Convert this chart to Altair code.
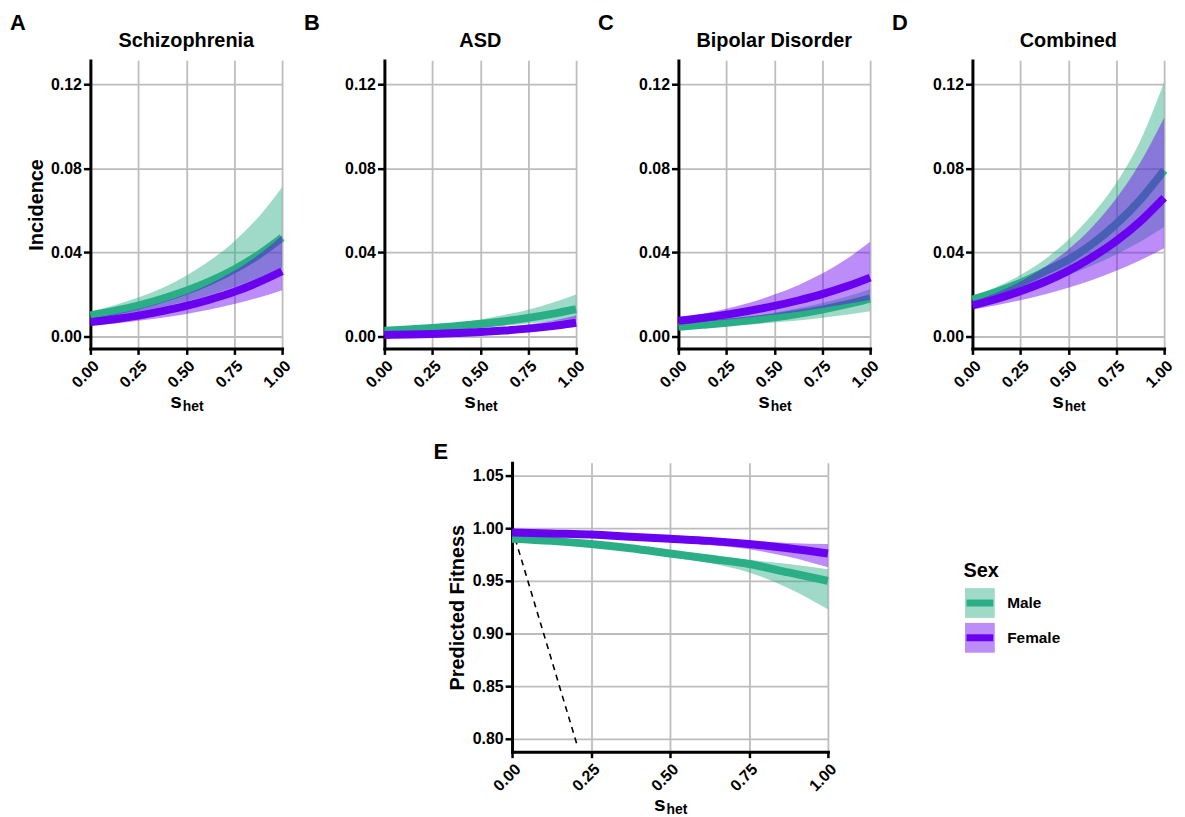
import altair as alt
import pandas as pd

# ---------------- data ----------------
SEXES = ["Male", "Female"]
LINE_COLORS = ["#2AAE85", "#6A00F0"]
X_GRID = [0.0, 0.125, 0.25, 0.375, 0.5, 0.625, 0.75, 0.875, 1.0]
X_TICKS = [0.0, 0.25, 0.5, 0.75, 1.0]
INC_TICKS = [0.0, 0.04, 0.08, 0.12]
FIT_TICKS = [0.80, 0.85, 0.90, 0.95, 1.00, 1.05]

# Schizophrenia
SCZ_M_MID = [0.0100, 0.0121, 0.0147, 0.0179, 0.0217, 0.0263, 0.0319, 0.0387, 0.0470]
SCZ_M_LO = [0.0085, 0.0101, 0.0119, 0.0141, 0.0167, 0.0198, 0.0235, 0.0278, 0.0330]
SCZ_M_HI = [0.0118, 0.0148, 0.0185, 0.0231, 0.0289, 0.0362, 0.0452, 0.0566, 0.0710]
SCZ_F_MID = [0.0068, 0.0082, 0.0099, 0.0120, 0.0145, 0.0176, 0.0212, 0.0257, 0.0310]
SCZ_F_LO = [0.0052, 0.0062, 0.0075, 0.0089, 0.0107, 0.0128, 0.0154, 0.0184, 0.0220]
SCZ_F_HI = [0.0085, 0.0106, 0.0131, 0.0163, 0.0202, 0.0251, 0.0312, 0.0387, 0.0480]

# ASD
ASD_M_MID = [0.0027, 0.0033, 0.0040, 0.0049, 0.0059, 0.0072, 0.0088, 0.0107, 0.0130]
ASD_M_LO = [0.0022, 0.0026, 0.0031, 0.0037, 0.0043, 0.0051, 0.0061, 0.0072, 0.0085]
ASD_M_HI = [0.0033, 0.0041, 0.0052, 0.0065, 0.0081, 0.0102, 0.0127, 0.0160, 0.0200]
ASD_F_MID = [0.0007, 0.0009, 0.0012, 0.0016, 0.0021, 0.0028, 0.0037, 0.0049, 0.0065]
ASD_F_LO = [0.0004, 0.0005, 0.0007, 0.0010, 0.0013, 0.0018, 0.0025, 0.0033, 0.0045]
ASD_F_HI = [0.0011, 0.0015, 0.0019, 0.0025, 0.0033, 0.0043, 0.0057, 0.0075, 0.0100]

# Bipolar disorder
BD_M_MID = [0.0046, 0.0055, 0.0065, 0.0077, 0.0091, 0.0108, 0.0128, 0.0152, 0.0180]
BD_M_LO = [0.0036, 0.0042, 0.0049, 0.0057, 0.0066, 0.0076, 0.0089, 0.0103, 0.0120]
BD_M_HI = [0.0057, 0.0068, 0.0080, 0.0095, 0.0113, 0.0134, 0.0159, 0.0189, 0.0225]
BD_F_MID = [0.0075, 0.0088, 0.0104, 0.0123, 0.0145, 0.0171, 0.0201, 0.0237, 0.0280]
BD_F_LO = [0.0062, 0.0071, 0.0080, 0.0091, 0.0104, 0.0118, 0.0135, 0.0154, 0.0175]
BD_F_HI = [0.0088, 0.0108, 0.0132, 0.0162, 0.0199, 0.0244, 0.0299, 0.0367, 0.0450]

# Combined
CMB_M_MID = [0.0175, 0.0211, 0.0255, 0.0308, 0.0365, 0.0440, 0.0535, 0.0650, 0.0790]
CMB_M_LO = [0.0165, 0.0190, 0.0220, 0.0254, 0.0293, 0.0338, 0.0390, 0.0450, 0.0520]
CMB_M_HI = [0.0190, 0.0235, 0.0292, 0.0365, 0.0460, 0.0580, 0.0730, 0.0930, 0.1210]
CMB_F_MID = [0.0148, 0.0178, 0.0215, 0.0259, 0.0312, 0.0377, 0.0454, 0.0547, 0.0660]
CMB_F_LO = [0.0128, 0.0148, 0.0172, 0.0200, 0.0232, 0.0269, 0.0312, 0.0362, 0.0420]
CMB_F_HI = [0.0165, 0.0208, 0.0261, 0.0329, 0.0414, 0.0521, 0.0656, 0.0826, 0.1040]

# Predicted fitness
FIT_M_MID = [0.990, 0.988, 0.985, 0.981, 0.976, 0.971, 0.966, 0.958, 0.950]
FIT_M_LO = [0.987, 0.985, 0.982, 0.978, 0.973, 0.967, 0.958, 0.943, 0.923]
FIT_M_HI = [0.992, 0.990, 0.987, 0.984, 0.979, 0.975, 0.970, 0.966, 0.961]
FIT_F_MID = [0.996, 0.995, 0.994, 0.992, 0.990, 0.988, 0.985, 0.981, 0.976]
FIT_F_LO = [0.994, 0.993, 0.991, 0.989, 0.987, 0.984, 0.980, 0.973, 0.963]
FIT_F_HI = [0.998, 0.997, 0.996, 0.994, 0.992, 0.990, 0.988, 0.986, 0.985]

# reference line (fitness = 1 - s_het)
DASH_X = [0.0, 0.205]
DASH_Y = [1.0, 0.795]

FONT = "Liberation Sans"
TOP_W, TOP_H = 193, 290
E_W, E_H = 318, 291
INC_DOMAIN = [-0.0057, 0.1313]
FIT_DOMAIN = [0.7877, 1.0623]


def text_layer(txt, x, y, size, align="left", baseline="alphabetic"):
    return alt.Chart(pd.DataFrame({"t": [txt]})).mark_text(
        font=FONT, fontSize=size, fontWeight="bold", color="black",
        align=align, baseline=baseline,
    ).encode(text="t:N", x=alt.value(x), y=alt.value(y))


def make_panel(letter, title, series, ydom, yticks, ytitle, w, h,
               letter_x, letter_y, extra=None):
    xenc = alt.X("x:Q", scale=alt.Scale(domain=[0, 1], nice=False, zero=False),
                 axis=alt.Axis(values=X_TICKS, format=".2f", labelAngle=-45,
                               labelAlign="right", labelBaseline="top",
                               labelPadding=3, tickSize=6, title=None))
    yscale = alt.Scale(domain=ydom, nice=False, zero=False)
    yaxis = alt.Axis(values=yticks, format=".2f", title=ytitle)
    layers = []
    if extra is not None:
        df = pd.DataFrame({"x": extra[0], "y": extra[1]})
        layers.append(alt.Chart(df).mark_line(color="black", strokeWidth=1.6,
                                              strokeDash=[6, 5]).encode(
            x=xenc, y=alt.Y("y:Q", scale=yscale, axis=yaxis)))
    for sex, (mid, lo, hi) in series:
        col = LINE_COLORS[SEXES.index(sex)]
        df = pd.DataFrame({"x": X_GRID, "mid": mid, "lo": lo, "hi": hi})
        layers.append(alt.Chart(df).mark_area(color=col, opacity=0.45,
                                              interpolate="monotone").encode(
            x=xenc, y=alt.Y("lo:Q", scale=yscale, axis=yaxis), y2="hi:Q"))
        layers.append(alt.Chart(df).mark_line(color=col, strokeWidth=8,
                                              interpolate="monotone").encode(
            x=xenc, y=alt.Y("mid:Q", scale=yscale, axis=yaxis)))
    layers.append(text_layer(letter, letter_x, letter_y, 22))
    if title:
        layers.append(text_layer(title, w / 2, -13.3, 20, align="center"))
    layers.append(text_layer("s", w / 2 - 4.5, h + 60, 21, align="right"))
    layers.append(text_layer("het", w / 2 - 3.5, h + 62.5, 14, align="left"))
    return alt.layer(*layers).properties(width=w, height=h)


pA = make_panel("A", "Schizophrenia",
                [("Male", (SCZ_M_MID, SCZ_M_LO, SCZ_M_HI)),
                 ("Female", (SCZ_F_MID, SCZ_F_LO, SCZ_F_HI))],
                INC_DOMAIN, INC_TICKS, "Incidence", TOP_W, TOP_H, -81, -31)
pB = make_panel("B", "ASD",
                [("Male", (ASD_M_MID, ASD_M_LO, ASD_M_HI)),
                 ("Female", (ASD_F_MID, ASD_F_LO, ASD_F_HI))],
                INC_DOMAIN, INC_TICKS, None, TOP_W, TOP_H, -81, -31)
pC = make_panel("C", "Bipolar Disorder",
                [("Male", (BD_M_MID, BD_M_LO, BD_M_HI)),
                 ("Female", (BD_F_MID, BD_F_LO, BD_F_HI))],
                INC_DOMAIN, INC_TICKS, None, TOP_W, TOP_H, -81, -31)
pD = make_panel("D", "Combined",
                [("Male", (CMB_M_MID, CMB_M_LO, CMB_M_HI)),
                 ("Female", (CMB_F_MID, CMB_F_LO, CMB_F_HI))],
                INC_DOMAIN, INC_TICKS, None, TOP_W, TOP_H, -81, -31)
pE = make_panel("E", None,
                [("Male", (FIT_M_MID, FIT_M_LO, FIT_M_HI)),
                 ("Female", (FIT_F_MID, FIT_F_LO, FIT_F_HI))],
                FIT_DOMAIN, FIT_TICKS, "Predicted Fitness", E_W, E_H, -79, -3.4,
                extra=(DASH_X, DASH_Y))

# legend (custom, built from the category list)
leg_df = pd.DataFrame({"sex": SEXES})
leg_y = alt.Y("sex:N", scale=alt.Scale(type="point", domain=SEXES,
                                       range=[141.3, 176.3], padding=0), axis=None)
leg_fill = alt.Fill("sex:N", scale=alt.Scale(domain=SEXES, range=LINE_COLORS), legend=None)
leg_col = alt.Color("sex:N", scale=alt.Scale(domain=SEXES, range=LINE_COLORS), legend=None)
legend = alt.layer(
    text_layer("Sex", 0, 115.3, 20),
    alt.Chart(leg_df).mark_square(size=900, opacity=0.45, strokeWidth=0).encode(
        x=alt.value(16.5), y=leg_y, fill=leg_fill),
    alt.Chart(leg_df).mark_rule(strokeWidth=7).encode(
        x=alt.value(3), x2=alt.value(30), y=leg_y, color=leg_col),
    alt.Chart(leg_df).mark_text(font=FONT, fontSize=15.5, fontWeight="bold",
                                align="left", baseline="middle", color="black").encode(
        x=alt.value(44), y=leg_y, text="sex:N"),
).properties(width=100, height=E_H)

SPACER_W = 288
spacer = alt.Chart(pd.DataFrame({"v": [0]})).mark_rect(opacity=0).encode(
    x=alt.value(0), x2=alt.value(SPACER_W), y=alt.value(0), y2=alt.value(1)
).properties(width=SPACER_W, height=E_H)

row1 = alt.hconcat(pA, pB, pC, pD, spacing=103, bounds="flush")
row2 = alt.hconcat(spacer, pE, legend, spacing=136.5, bounds="flush")

chart = alt.vconcat(row1, row2, spacing=27).properties(
    padding={"left": 10, "top": 9, "right": 5, "bottom": 5}
).configure(font=FONT).configure_view(strokeWidth=0).configure_axis(
    domainColor="black", domainWidth=3, domainCap="square",
    tickColor="black", tickWidth=2.5, tickSize=7,
    grid=True, gridColor="#BDBDBD", gridWidth=1.8,
    labelFont=FONT, labelFontSize=16, labelFontWeight="bold", labelColor="black",
    labelPadding=2,
    titleFont=FONT, titleFontSize=20, titleFontWeight="bold", titleColor="black",
    titlePadding=4.5,
)

chart.save("out.html", embed_options={"renderer": "svg", "actions": False})
